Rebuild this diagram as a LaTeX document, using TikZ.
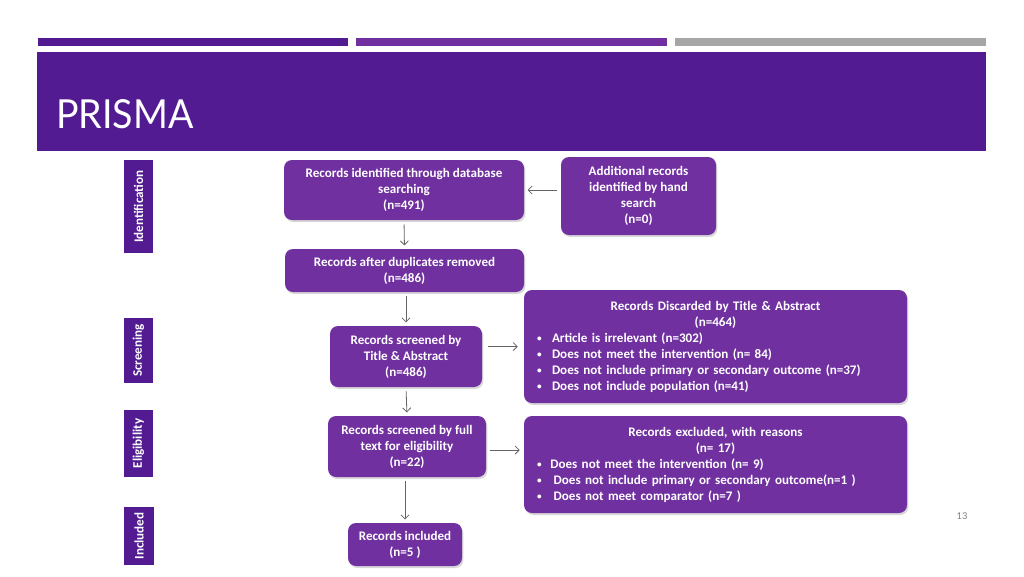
\documentclass[tikz,border=0pt]{standalone}
\usepackage{fontspec}
\setmainfont{Carlito}
\newfontfamily\titlefont{Lato}
\usetikzlibrary{shadows,calc,arrows.meta}
\definecolor{hdr}{RGB}{82,27,145}
\definecolor{boxc}{RGB}{112,48,160}
\definecolor{barg}{RGB}{166,166,166}
\definecolor{arr}{RGB}{100,100,100}
\newcommand{\bul}[1][11.25pt]{\makebox[#1][l]{\raisebox{0.6pt}{\scalebox{0.7}{\textbullet}}}}
\begin{document}
\begin{tikzpicture}[x=0.75pt,y=-0.75pt,
  box/.style={rounded corners=6pt, fill=boxc, text=white,
    font=\bfseries\fontsize{9.8}{12}\selectfont, align=center, inner sep=0pt,
    drop shadow={shadow xshift=1pt, shadow yshift=-1.5pt, opacity=0.3}},
  sz/.style 2 args={minimum width=#1*0.75pt, minimum height=#2*0.75pt},
  stage/.style={fill=hdr, text=white, font=\bfseries\fontsize{9.8}{11}\selectfont,
    rotate=90, inner sep=0pt},
  con/.style={draw=arr, line width=0.6pt, -{Straight Barb[length=3pt,width=6pt]},
    shorten <=3pt, shorten >=2.5pt}
]
\useasboundingbox[fill=white] (0,0) rectangle (1024,576);
% top bars and header
\fill[hdr] (38,38) rectangle (348,46);
\fill[boxc] (356,38) rectangle (667,46);
\fill[barg] (675,38) rectangle (986,46);
\fill[hdr] (37,52) rectangle (986,151);
\node[anchor=base west, inner sep=0pt, text=white, font=\titlefont\fontsize{30}{34}\selectfont] (title) at (56,128) {\scalebox{0.94}[1]{PRISMA}};
% stage labels
\node[stage, sz={93}{29}] (sid) at (138.5,206.5) {Identification};
\node[stage, sz={65}{29}] (ssc) at (138.5,350.5) {Screening};
\node[stage, sz={67}{29}] (sel) at (138.5,443.5) {Eligibility};
\node[stage, sz={58}{30}] (sin) at (139,536) {Included};
% boxes
\node[box, sz={240}{60}] (db) at (404,190) {Records identified through database\\searching\\(n=491)};
\node[box, sz={155}{78}] (hand) at (638.5,196) {Additional records\\identified by hand\\search\\(n=0)};
\node[box, sz={239}{43}] (dup) at (404.5,270.5) {Records after duplicates removed\\(n=486)};
\node[box, sz={152}{61}] (scr) at (406,356.5) {Records screened by\\Title \& Abstract\\(n=486)};
\node[box, sz={383}{113}, text width=357*0.75pt, align=left] (disc) at (715.5,346.5) {%
  \centering Records Discarded by Title \& Abstract\\(n=464)\par
  \raggedright
  \bul Article is irrelevant (n=302)\\
  \bul Does not meet the intervention (n= 84)\\
  \bul Does not include primary or secondary outcome (n=37)\\
  \bul Does not include population (n=41)};
\node[box, sz={158}{61}] (full) at (407,446.5) {Records screened by full\\text for eligibility\\(n=22)};
\node[box, sz={383}{97}, text width=357*0.75pt, align=left] (excl) at (715.5,464.5) {%
  \centering Records excluded, with reasons\\(n= 17)\par
  \raggedright
  \bul[10pt]Does not meet the intervention (n= 9)\\
  \bul[12.5pt]Does not include primary or secondary outcome(n=1 )\\
  \bul[12.5pt]Does not meet comparator (n=7 )};
\node[box, sz={114}{43}] (inc) at (405,544.5) {Records included\\(n=5 )};
% connectors
\draw[con] (hand.west |- db.east) -- (db.east);
\draw[con] (db.south) -- (dup.north);
\draw[con] (dup.south -| scr.north) -- (scr.north);
\draw[con] (scr.south) -- (full.north);
\draw[con] (full.south -| inc.north) -- (inc.north);
\draw[con, shorten <=4.5pt, shorten >=4.5pt] (scr.east |- disc.west) -- (disc.west);
\coordinate (fe) at ($(full.east)+(0,3.5)$);
\draw[con, shorten <=3pt, shorten >=3pt] (fe) -- (excl.west |- fe);
% page number
\node[text=gray, font=\titlefont\fontsize{7}{8}\selectfont, inner sep=0pt] (pg) at (962,516) {13};
\end{tikzpicture}
\end{document}
